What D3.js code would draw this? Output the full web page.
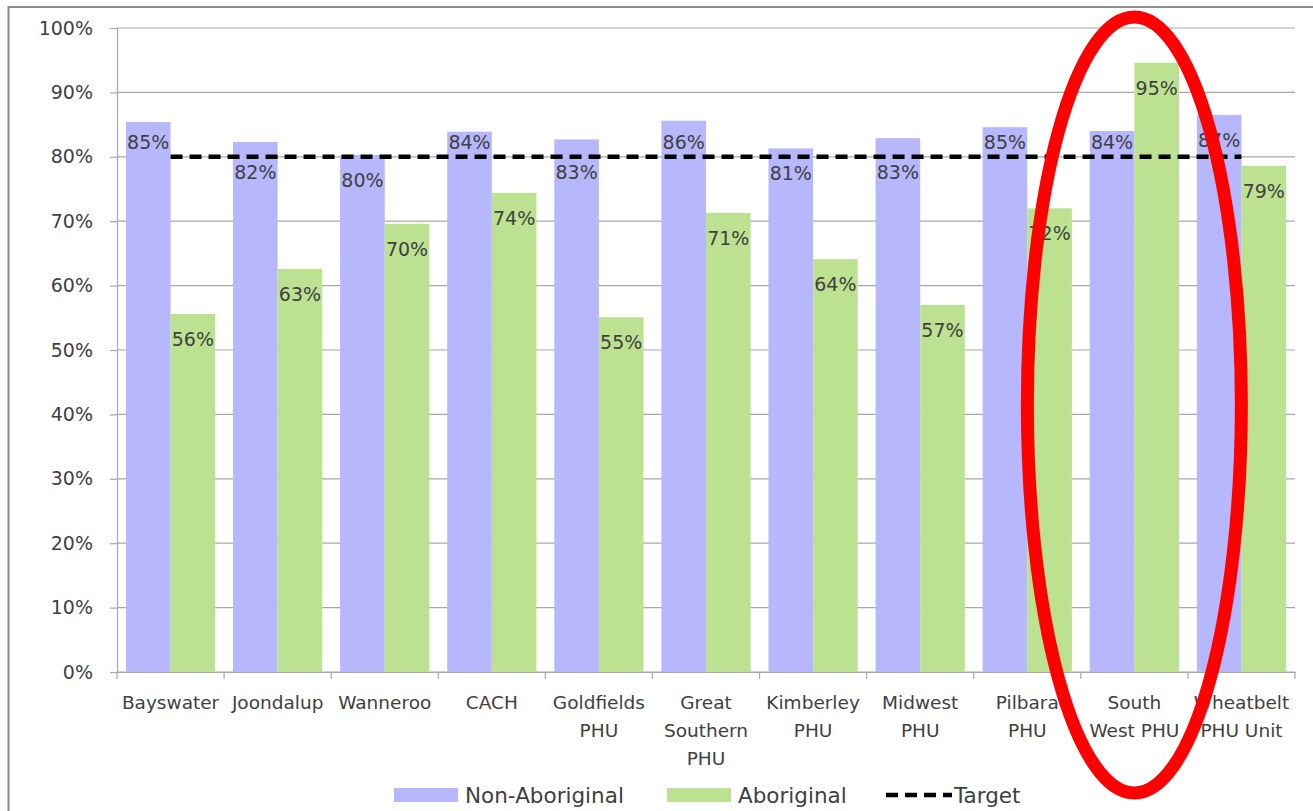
<!DOCTYPE html>
<html>
<head>
<meta charset="utf-8">
<script src="https://cdn.jsdelivr.net/npm/d3@7"></script>
<style>
  body { margin: 0; background: #fff; }
  text { font-family: "DejaVu Sans", sans-serif; fill: #404040; }
</style>
</head>
<body>
<svg id="chart"></svg>
<script>
const svgWidth = 1313;
const svgHeight = 811;

// plot area (pixel box of the value axis)
const plot = { left: 117, right: 1295, top: 28, bottom: 672 };

const categories = ["Bayswater", "Joondalup", "Wanneroo", "CACH", "Goldfields\nPHU", "Great\nSouthern\nPHU",
  "Kimberley\nPHU", "Midwest\nPHU", "Pilbara\nPHU", "South\nWest PHU", "Wheatbelt\nPHU Unit"];
const nonAboriginal = [85.4, 82.3, 80.3, 83.9, 82.7, 85.6, 81.3, 82.9, 84.6, 84.0, 86.5];
const aboriginal = [55.6, 62.6, 69.6, 74.4, 55.1, 71.3, 64.1, 57.0, 72.0, 94.6, 78.6];
const target = 80;
const yTicks = [0, 10, 20, 30, 40, 50, 60, 70, 80, 90, 100];
const seriesNames = ["Non-Aboriginal", "Aboriginal", "Target"];
const highlighted = "South\nWest PHU";

const colors = { non: "#b7b7fd", abo: "#bce291", grid: "#a8a8a8" };

const svg = d3.select("#chart")
    .attr("width", svgWidth)
    .attr("height", svgHeight);

// outer frame
svg.append("rect")
    .attr("x", 8.5).attr("y", 7)
    .attr("width", 1400).attr("height", 900)
    .attr("fill", "none")
    .attr("stroke", "#8c8c8c")
    .attr("stroke-width", 2);

const x0 = d3.scaleBand()
    .domain(categories)
    .range([plot.left, plot.right])
    .padding(0);

const x1 = d3.scaleBand()
    .domain(["non", "abo"])
    .range([0, x0.bandwidth()])
    .paddingInner(0)
    .paddingOuter(0.2);

const y = d3.scaleLinear()
    .domain([0, 100])
    .range([plot.bottom, plot.top]);

// gridlines
svg.append("g")
    .selectAll("line")
    .data(yTicks)
    .enter()
    .append("line")
    .attr("x1", plot.left).attr("x2", plot.right)
    .attr("y1", d => y(d)).attr("y2", d => y(d))
    .attr("stroke", colors.grid)
    .attr("stroke-width", 1.2);

// y axis
const yAxis = d3.axisLeft(y)
    .tickValues(yTicks)
    .tickSize(7)
    .tickPadding(17)
    .tickFormat(d => d + "%");

const yg = svg.append("g")
    .attr("transform", `translate(${plot.left},0)`)
    .call(yAxis);
yg.selectAll("path, line").attr("stroke", colors.grid).attr("stroke-width", 1.2);
yg.selectAll("text").style("font-size", "19px").style("font-family", "DejaVu Sans").attr("fill", "#404040");

// bars
const rows = categories.map((c, i) => ({ cat: c, non: nonAboriginal[i], abo: aboriginal[i] }));

const groups = svg.append("g")
    .selectAll("g")
    .data(rows)
    .enter()
    .append("g")
    .attr("transform", d => `translate(${x0(d.cat)},0)`);

groups.selectAll("rect")
    .data(d => ["non", "abo"].map(k => ({ key: k, value: d[k] })))
    .enter()
    .append("rect")
    .attr("x", d => x1(d.key))
    .attr("width", x1.bandwidth())
    .attr("y", d => y(d.value))
    .attr("height", d => y(0) - y(d.value))
    .attr("fill", d => colors[d.key]);

// x axis
const xAxis = d3.axisBottom(x0).tickSize(0).tickFormat("");
const xg = svg.append("g")
    .attr("transform", `translate(0,${plot.bottom})`)
    .call(xAxis);
xg.select("path").attr("stroke", colors.grid).attr("stroke-width", 1.2);

// tick marks at category boundaries
svg.append("g")
    .selectAll("line")
    .data(categories.concat(["end"]))
    .enter()
    .append("line")
    .attr("x1", (d, i) => plot.left + i * x0.bandwidth())
    .attr("x2", (d, i) => plot.left + i * x0.bandwidth())
    .attr("y1", plot.bottom).attr("y2", plot.bottom + 7)
    .attr("stroke", colors.grid)
    .attr("stroke-width", 1.2);

// category labels
svg.append("g")
    .selectAll("text")
    .data(categories)
    .enter()
    .append("text")
    .attr("text-anchor", "middle")
    .style("font-size", "18.5px")
    .attr("transform", d => `translate(${x0(d) + x0.bandwidth() / 2},${plot.bottom + 37})`)
    .each(function (d) {
        d.split("\n").forEach((line, i) => {
            d3.select(this).append("tspan")
                .attr("x", 0)
                .attr("y", i * 28)
                .text(line);
        });
    });

// target line
const xc = d => x0(d) + x0.bandwidth() / 2;
svg.append("line")
    .attr("x1", xc(categories[0]))
    .attr("x2", xc(categories[categories.length - 1]))
    .attr("y1", y(target)).attr("y2", y(target))
    .attr("stroke", "#000")
    .attr("stroke-width", 4.5)
    .attr("stroke-dasharray", "12,7");

// data labels: inside the bar top, moved off the target line when they clash
const labelY = d => {
    let ly = y(d.value) + 25;
    if (d.key === "non" && Math.abs(ly - y(target)) < 12) {
        const above = y(target) - 15, below = y(target) + 15;
        ly = Math.abs(ly - above) <= Math.abs(ly - below) ? above : below;
    }
    return ly;
};

groups.selectAll("text.lbl")
    .data(d => ["non", "abo"].map(k => ({ key: k, value: d[k] })))
    .enter()
    .append("text")
    .attr("class", "lbl")
    .attr("text-anchor", "middle")
    .attr("dominant-baseline", "central")
    .attr("x", d => x1(d.key) + x1.bandwidth() / 2)
    .attr("y", labelY)
    .style("font-size", "19px")
    .attr("fill", "#333")
    .text(d => Math.round(d.value) + "%");

// legend
const legend = svg.append("g").attr("transform", "translate(0,795)");
const legendX = [394, 667, 886];
seriesNames.forEach((name, i) => {
    const g = legend.append("g").attr("transform", `translate(${legendX[i]},0)`);
    if (i < 2) {
        g.append("rect")
            .attr("x", 0).attr("y", -7)
            .attr("width", 64).attr("height", 14)
            .attr("fill", i === 0 ? colors.non : colors.abo);
    } else {
        g.append("line")
            .attr("x1", 0).attr("x2", 66)
            .attr("y1", 0).attr("y2", 0)
            .attr("stroke", "#000")
            .attr("stroke-width", 4.5)
            .attr("stroke-dasharray", "12,7");
    }
    g.append("text")
        .attr("x", i < 2 ? 71 : 68)
        .attr("y", 0)
        .attr("dominant-baseline", "central")
        .style("font-size", "21.5px")
        .text(name);
});

// red annotation ellipse around the highlighted region
svg.append("ellipse")
    .attr("cx", xc(highlighted))
    .attr("cy", 405)
    .attr("rx", 107)
    .attr("ry", 388)
    .attr("fill", "none")
    .attr("stroke", "#ff0000")
    .attr("stroke-width", 13);
</script>
</body>
</html>
